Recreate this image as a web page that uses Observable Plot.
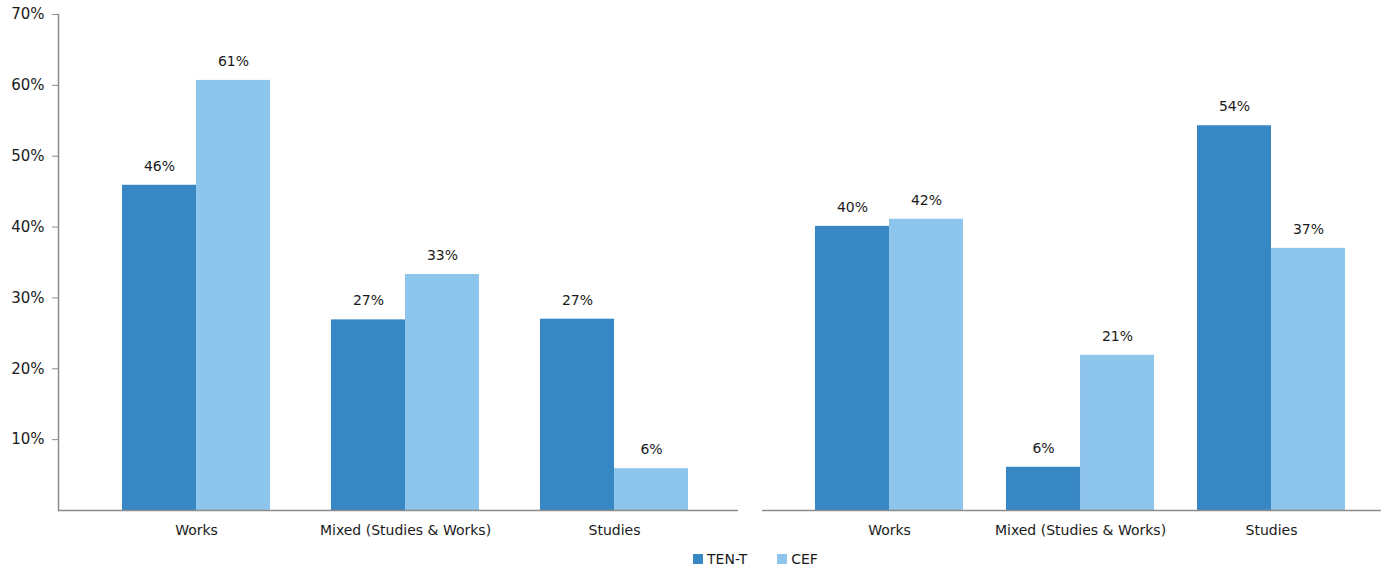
<!DOCTYPE html>
<html>
<head>
<meta charset="utf-8">
<script src="https://cdn.jsdelivr.net/npm/d3@7"></script>
<script src="https://cdn.jsdelivr.net/npm/@observablehq/plot@0.6"></script>
<style>
  html, body { margin: 0; padding: 0; background: #fff; }
  #wrap { position: relative; width: 1381px; height: 568px; font-family: "DejaVu Sans", sans-serif; }
  #left { position: absolute; left: 0; top: 0; }
  #right { position: absolute; left: 748px; top: 0; }
  #legend { position: absolute; top: 551px; left: 0; width: 1381px; display: flex; justify-content: center; gap: 30px; font-size: 14px; color: #1a1a1a; padding-left: 130px; box-sizing: border-box; }
  #legend span.item { display: inline-flex; align-items: center; gap: 4px; }
  #legend span.sw { display: inline-block; width: 10px; height: 10px; }
</style>
</head>
<body>
<div id="wrap">
  <div id="left"></div>
  <div id="right"></div>
  <div id="legend"></div>
</div>
<script>
const categories = ["Works", "Mixed (Studies & Works)", "Studies"];
const series = ["TEN-T", "CEF"];
const colors = ["#3787c4", "#8ec5ec"];

// Left panel values (bar heights, %)
const leftTENT = [45.9, 26.9, 27.0];
const leftCEF  = [60.7, 33.3, 5.9];
const leftTENTLabels = ["46%", "27%", "27%"];
const leftCEFLabels  = ["61%", "33%", "6%"];

// Right panel values (bar heights, %)
const rightTENT = [40.1, 6.1, 54.3];
const rightCEF  = [41.1, 21.9, 37.0];
const rightTENTLabels = ["40%", "6%", "54%"];
const rightCEFLabels  = ["42%", "21%", "37%"];

const yTicks = [10, 20, 30, 40, 50, 60, 70];

function rows(tent, cef, tl, cl) {
  const out = [];
  categories.forEach((c, i) => {
    out.push({category: c, series: series[0], value: tent[i], label: tl[i]});
    out.push({category: c, series: series[1], value: cef[i], label: cl[i]});
  });
  return out;
}

function panel({data, width, marginLeft, marginRight, xRange, padIn, showY}) {
  const step = (xRange[1] - xRange[0]) / categories.length;
  const half = step * (1 - padIn) / 2;
  const tent = data.filter(d => d.series === series[0]);
  const cef = data.filter(d => d.series === series[1]);
  const marks = [
    Plot.barY(tent, {x: "category", y: "value", fill: colors[0], insetRight: half}),
    Plot.barY(cef, {x: "category", y: "value", fill: colors[1], insetLeft: half}),
    Plot.text(tent, {x: "category", y: "value", text: "label", dx: -half / 2, dy: -19, fontSize: 14, fill: "#1a1a1a"}),
    Plot.text(cef, {x: "category", y: "value", text: "label", dx: half / 2, dy: -19, fontSize: 14, fill: "#1a1a1a"}),
    Plot.ruleY([0], {stroke: "#8c8c8c", strokeWidth: 1.5}),
    Plot.axisX({tickSize: 0, tickPadding: 15, fontSize: 14, label: null, fill: "#1a1a1a"})
  ];
  if (showY) {
    marks.push(Plot.axisY(yTicks, {tickSize: 6, tickPadding: 8, fontSize: 15, label: null, tickFormat: d => d + "%", stroke: "#8c8c8c", fill: "#1a1a1a"}));
    marks.push(Plot.frame({anchor: "left", stroke: "#8c8c8c", strokeWidth: 1.5}));
  }
  return Plot.plot({
    width,
    height: 540,
    marginTop: 14,
    marginBottom: 30,
    marginLeft,
    marginRight,
    style: {fontFamily: "DejaVu Sans, sans-serif", background: "transparent", overflow: "visible"},
    x: {domain: categories, range: xRange, paddingInner: padIn, paddingOuter: padIn / 2, axis: null},
    y: {domain: [0, 70], axis: null},
    marks
  });
}

document.getElementById("left").appendChild(panel({
  data: rows(leftTENT, leftCEF, leftTENTLabels, leftCEFLabels),
  width: 748, marginLeft: 58, marginRight: 10,
  xRange: [91.5, 718.5], padIn: 0.292, showY: true
}));

document.getElementById("right").appendChild(panel({
  data: rows(rightTENT, rightCEF, rightTENTLabels, rightCEFLabels),
  width: 633, marginLeft: 14, marginRight: 0,
  xRange: [44.25, 618.75], padIn: 0.227, showY: false
}));

const legend = document.getElementById("legend");
series.forEach((s, i) => {
  const item = document.createElement("span");
  item.className = "item";
  const sw = document.createElement("span");
  sw.className = "sw";
  sw.style.background = colors[i];
  item.appendChild(sw);
  item.appendChild(document.createTextNode(s));
  legend.appendChild(item);
});
</script>
</body>
</html>
